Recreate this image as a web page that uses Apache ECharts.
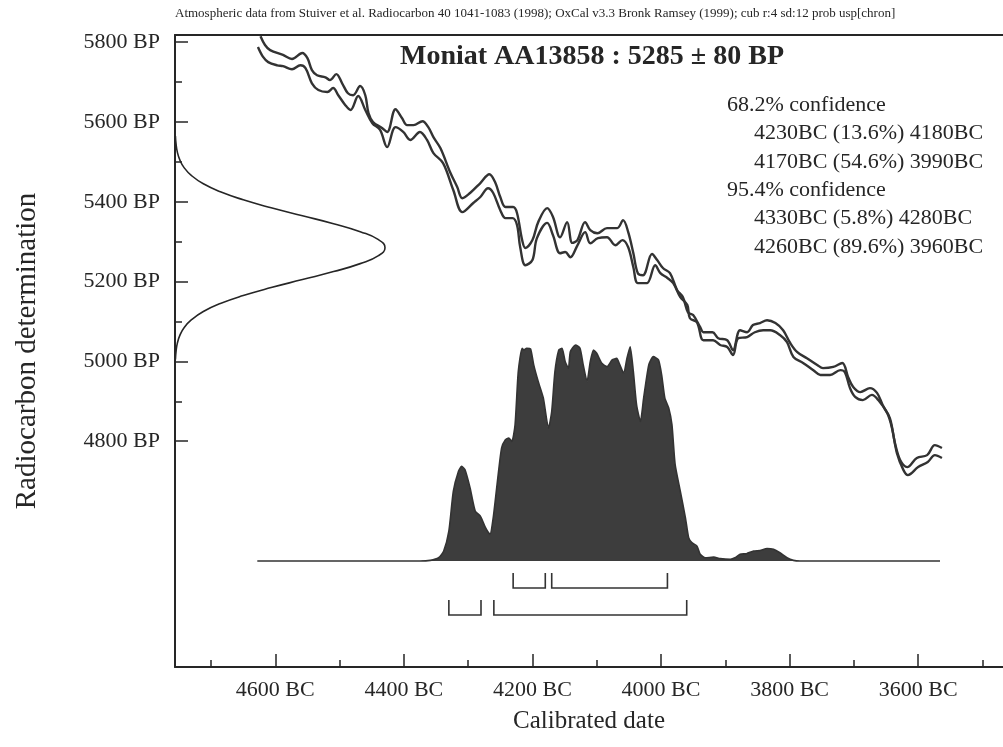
<!DOCTYPE html>
<html>
<head>
<meta charset="utf-8">
<script src="https://cdn.jsdelivr.net/npm/echarts@6/dist/echarts.min.js"></script>
<style>html,body{margin:0;padding:0;background:#fff}#c{width:1003px;height:747px}</style>
</head>
<body>
<div id="c"></div>
<script>
// ---------------- DATA ----------------
const sampleName = 'Moniat AA13858';
const sampleBP = 5285;
const sampleErr = 80;
const sourceNote = 'Atmospheric data from Stuiver et al. Radiocarbon 40 1041-1083 (1998); OxCal v3.3 Bronk Ramsey (1999); cub r:4 sd:12 prob usp[chron]';

// calibration curve, upper (+1 sigma) line
const upperBC = [4623,4616,4608,4588,4574,4558,4550,4543,4535,4522,4515,4505,4496,4487,4479,4468,4460,4455,4448,4434,4426,4413,4403,4395,4385,4371,4362,4354,4343,4328,4317,4309,4297,4281,4267,4258,4250,4242,4230,4224,4216,4211,4200,4191,4177,4168,4157,4146,4138,4130,4118,4110,4099,4084,4068,4059,4051,4043,4036,4028,4014,4006,3997,3986,3975,3966,3958,3950,3939,3934,3920,3911,3897,3888,3877,3866,3857,3846,3835,3822,3810,3799,3788,3773,3757,3748,3732,3718,3709,3701,3690,3675,3664,3655,3644,3636,3628,3617,3602,3586,3574,3563];
const upperBP = [5815,5793,5780,5768,5758,5773,5760,5730,5717,5712,5705,5720,5697,5672,5667,5690,5667,5622,5600,5585,5575,5632,5610,5592,5592,5602,5587,5562,5534,5474,5437,5409,5422,5447,5469,5449,5412,5387,5387,5372,5304,5284,5304,5349,5384,5362,5311,5349,5297,5304,5349,5329,5321,5334,5334,5354,5324,5271,5221,5216,5269,5254,5234,5221,5179,5161,5123,5116,5086,5073,5073,5058,5053,5028,5078,5073,5091,5096,5103,5096,5078,5046,5023,5008,4991,4983,4986,4996,4961,4936,4923,4933,4921,4890,4858,4795,4753,4735,4758,4765,4790,4783];
// calibration curve, lower (-1 sigma) line
const lowerBC = [4627,4619,4611,4597,4588,4574,4561,4553,4543,4533,4519,4510,4502,4491,4483,4471,4460,4449,4437,4426,4413,4401,4390,4375,4364,4354,4339,4323,4309,4292,4281,4269,4261,4250,4242,4231,4224,4219,4211,4200,4193,4177,4168,4157,4149,4141,4130,4118,4110,4098,4084,4071,4060,4051,4043,4036,4022,4009,4001,3990,3981,3970,3959,3955,3944,3934,3919,3908,3897,3888,3880,3866,3854,3841,3830,3815,3804,3794,3779,3763,3752,3737,3721,3714,3706,3698,3686,3672,3662,3648,3641,3633,3623,3616,3600,3585,3574,3563];
const lowerBP = [5788,5763,5750,5742,5740,5732,5742,5735,5697,5680,5675,5685,5667,5642,5630,5665,5630,5597,5580,5537,5587,5575,5555,5575,5555,5522,5497,5429,5374,5397,5412,5434,5422,5379,5359,5359,5342,5286,5241,5254,5309,5347,5316,5271,5274,5261,5291,5324,5296,5309,5311,5291,5304,5286,5236,5196,5196,5241,5221,5209,5196,5161,5141,5108,5098,5053,5053,5041,5036,5016,5058,5061,5073,5078,5078,5066,5048,5011,4996,4978,4966,4966,4978,4973,4933,4911,4903,4916,4903,4870,4835,4770,4728,4715,4735,4748,4765,4758];

// measured radiocarbon distribution (relative probability vs BP)
const gaussBP   = [5565,5545,5525,5505,5485,5465,5445,5425,5405,5385,5365,5345,5325,5305,5285,5265,5245,5225,5205,5185,5165,5145,5125,5105,5085,5065,5045,5025,5005];
const gaussProb = [0.002,0.005,0.011,0.023,0.044,0.080,0.135,0.216,0.325,0.458,0.607,0.755,0.882,0.969,1.0,0.969,0.882,0.755,0.607,0.458,0.325,0.216,0.135,0.080,0.044,0.023,0.011,0.005,0.002];

// calibrated date distribution (relative probability vs BC)
const probBC  = [4628,4375,4359,4346,4338,4330,4323,4315,4310,4305,4297,4289,4281,4273,4266,4261,4255,4248,4242,4237,4232,4227,4222,4216,4213,4209,4203,4198,4191,4183,4175,4170,4165,4159,4154,4149,4144,4141,4133,4126,4121,4115,4110,4105,4100,4092,4084,4076,4069,4064,4058,4053,4048,4043,4038,4032,4027,4019,4012,4004,3999,3994,3988,3983,3978,3970,3962,3957,3952,3944,3939,3931,3918,3908,3892,3885,3877,3867,3856,3846,3835,3825,3815,3804,3794,3784,3566];
const probVal = [0,0,0.003,0.015,0.046,0.138,0.323,0.415,0.438,0.423,0.338,0.231,0.208,0.154,0.123,0.2,0.354,0.523,0.562,0.569,0.554,0.631,0.877,0.985,0.977,0.985,0.982,0.908,0.831,0.754,0.615,0.692,0.877,0.977,0.985,0.923,0.892,0.969,1.0,0.985,0.908,0.831,0.923,0.977,0.962,0.915,0.9,0.931,0.938,0.908,0.869,0.938,0.992,0.877,0.723,0.646,0.754,0.908,0.946,0.931,0.862,0.754,0.708,0.631,0.446,0.323,0.2,0.108,0.085,0.069,0.031,0.015,0.018,0.011,0.008,0.015,0.031,0.034,0.046,0.049,0.058,0.054,0.038,0.015,0.003,0,0];

// confidence ranges
const conf1Level = '68.2%';
const range68 = [[4230,4180],[4170,3990]];
const range68Prob = ['13.6','54.6'];
const conf2Level = '95.4%';
const range95 = [[4330,4280],[4260,3960]];
const range95Prob = ['5.8','89.6'];

// axes
const xMajorTicks = [4600,4400,4200,4000,3800,3600];
const xMinorTicks = [4700,4500,4300,4100,3900,3700,3500];
const yMajorTicks = [5800,5600,5400,5200,5000,4800];
const yMinorTicks = [5700,5500,5300,5100,4900];
const xRange = [3468, 4756];
const yRange = [4234, 5818];

// ---------------- LAYOUT / STYLE ----------------
const FONT = "'Liberation Serif','Times New Roman',serif";
const INK = '#262626';
const GRID = {left:175, right:0, top:35, bottom:80};
const PLOT_W = 1003 - GRID.left - GRID.right;
const PLOT_H = 747 - GRID.top - GRID.bottom;
const GAUSS_PEAK_PX = 210;
const DIST_PEAK_PX = 216;
const DIST_BASE_FROM_BOTTOM = 106;
const BR_OFF = [[12,27],[39,54]];

const zip = (a,b) => a.slice(0, Math.min(a.length,b.length)).map((v,i)=>[v,b[i]]);

const chart = echarts.init(document.getElementById('c'));

const bracketData = [
  ...range68.map(r => [r[0], r[1], 0]),
  ...range95.map(r => [r[0], r[1], 1])
];

const confLines = [
  {t: conf1Level + ' confidence', ind: 0},
  ...range68.map((r,i)=>({t: r[0]+'BC ('+range68Prob[i]+'%) '+r[1]+'BC', ind:1})),
  {t: conf2Level + ' confidence', ind: 0},
  ...range95.map((r,i)=>({t: r[0]+'BC ('+range95Prob[i]+'%) '+r[1]+'BC', ind:1}))
];

const graphics = [
  {type:'text', x:175, y:14, style:{text:sourceNote, fontFamily:FONT, fontSize:13, fill:INK, verticalAlign:'middle'}},
  {type:'text', x:592, y:57, style:{text:sampleName+' : '+sampleBP+' \u00b1 '+sampleErr+' BP', fontFamily:FONT, fontSize:28, fontWeight:'bold', fill:INK, align:'center', verticalAlign:'middle'}}
];
confLines.forEach((l,i)=>{
  graphics.push({type:'text', x: l.ind ? 754 : 727, y: 105 + i*28.4,
    style:{text:l.t, fontFamily:FONT, fontSize:22, fill:INK, verticalAlign:'middle'}});
});

const axisLineStyle = {color:INK, width:2};

chart.setOption({
  animation:false,
  backgroundColor:'#fff',
  grid:{left:GRID.left, right:GRID.right, top:GRID.top, bottom:GRID.bottom},
  xAxis:[
    {type:'value', inverse:true, min:xRange[0], max:xRange[1], position:'bottom',
     axisLine:{show:true, onZero:false, lineStyle:axisLineStyle},
     axisTick:{show:true, inside:true, length:13, customValues:xMajorTicks, lineStyle:{color:INK,width:1.5}},
     axisLabel:{show:true, customValues:xMajorTicks, formatter:v=>v+' BC', fontFamily:FONT, fontSize:22, color:INK, margin:12},
     splitLine:{show:false},
     name:'Calibrated date', nameLocation:'middle', nameGap:42,
     nameTextStyle:{fontFamily:FONT, fontSize:25, color:INK}},
    {type:'value', inverse:true, min:xRange[0], max:xRange[1], position:'bottom',
     axisLine:{show:false, onZero:false},
     axisTick:{show:true, inside:true, length:7, customValues:xMinorTicks, lineStyle:{color:INK,width:1.5}},
     axisLabel:{show:false}, splitLine:{show:false}},
    {type:'value', min:0, max:PLOT_W/GAUSS_PEAK_PX, position:'top',
     axisLine:{show:true, onZero:false, lineStyle:axisLineStyle},
     axisTick:{show:false}, axisLabel:{show:false}, splitLine:{show:false}}
  ],
  yAxis:[
    {type:'value', min:yRange[0], max:yRange[1], position:'left',
     axisLine:{show:true, onZero:false, lineStyle:axisLineStyle},
     axisTick:{show:true, inside:true, length:13, customValues:yMajorTicks, lineStyle:{color:INK,width:1.5}},
     axisLabel:{show:true, customValues:yMajorTicks, formatter:v=>v+' BP', fontFamily:FONT, fontSize:22, color:INK, margin:15},
     splitLine:{show:false},
     name:'Radiocarbon determination', nameLocation:'middle', nameGap:133, nameRotate:90,
     nameTextStyle:{fontFamily:FONT, fontSize:29, color:INK}},
    {type:'value', min:yRange[0], max:yRange[1], position:'left',
     axisLine:{show:false, onZero:false},
     axisTick:{show:true, inside:true, length:7, customValues:yMinorTicks, lineStyle:{color:INK,width:1.5}},
     axisLabel:{show:false}, splitLine:{show:false}},
    {type:'value', position:'right', show:false,
     min:-DIST_BASE_FROM_BOTTOM/DIST_PEAK_PX, max:(PLOT_H-DIST_BASE_FROM_BOTTOM)/DIST_PEAK_PX,
     splitLine:{show:false}}
  ],
  graphic: graphics,
  series:[
    {type:'line', name:'upper', xAxisIndex:0, yAxisIndex:0, data:zip(upperBC, upperBP),
     showSymbol:false, smooth:0.35, lineStyle:{color:'#333', width:2.4}, z:3},
    {type:'line', name:'lower', xAxisIndex:0, yAxisIndex:0, data:zip(lowerBC, lowerBP),
     showSymbol:false, smooth:0.35, lineStyle:{color:'#333', width:2.4}, z:3},
    {type:'line', name:'measurement', xAxisIndex:2, yAxisIndex:0, data:zip(gaussProb, gaussBP),
     showSymbol:false, smooth:true, lineStyle:{color:INK, width:1.6}, z:3},
    {type:'line', name:'calibrated', xAxisIndex:0, yAxisIndex:2, data:zip(probBC, probVal),
     showSymbol:false, smooth:0.2, lineStyle:{color:'#333', width:1.6},
     areaStyle:{color:'#3d3d3d', opacity:1}, z:2},
    {type:'custom', name:'ranges', xAxisIndex:0, yAxisIndex:2, data:bracketData,
     encode:{x:[0,1], y:2},
     renderItem:(params, api)=>{
       const s = api.coord([api.value(0), 0]);
       const e = api.coord([api.value(1), 0]);
       const off = BR_OFF[api.value(2)];
       const top = s[1] + off[0], bot = s[1] + off[1];
       return {type:'polyline', shape:{points:[[s[0],top],[s[0],bot],[e[0],bot],[e[0],top]]},
               style:{stroke:'#333', lineWidth:1.6, fill:null}};
     }, z:3}
  ]
});
</script>
</body>
</html>
